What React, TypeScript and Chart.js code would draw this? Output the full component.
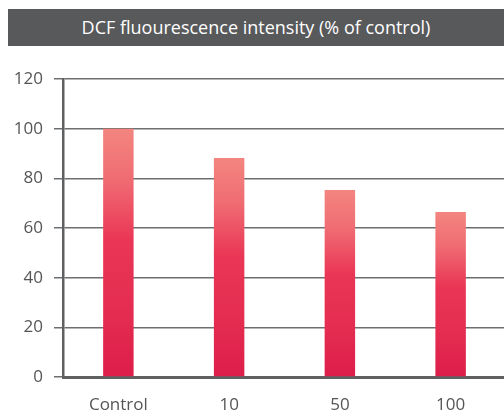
import React, { useEffect, useRef } from "react";
import { Chart, registerables } from "chart.js";

Chart.register(...registerables);

const titleText = "DCF fluourescence intensity (% of control)";
const categories = ["Control", "10", "50", "100"];
const values = [100, 88.2, 75.3, 66.4];
const yMin = 0;
const yMax = 120;
const yStep = 20;

const FONT = "'Open Sans', Lato, sans-serif";

export default function App() {
  const canvasRef = useRef<HTMLCanvasElement | null>(null);

  useEffect(() => {
    const canvas = canvasRef.current;
    if (!canvas) return;
    const chart = new Chart(canvas, {
      type: "bar",
      data: {
        labels: categories,
        datasets: [
          {
            data: values,
            categoryPercentage: 1,
            barPercentage: 0.275,
            borderWidth: 0,
            backgroundColor: (ctx: any) => {
              const c = ctx.chart;
              const y = c.scales?.y;
              if (!y || ctx.raw == null) return "#e8304f";
              const top = y.getPixelForValue(ctx.raw as number);
              const bottom = y.getPixelForValue(0);
              if (!isFinite(top) || !isFinite(bottom) || top === bottom) return "#e8304f";
              const g = c.ctx.createLinearGradient(0, top, 0, bottom);
              g.addColorStop(0, "#f3857f");
              g.addColorStop(0.2, "#f06d73");
              g.addColorStop(0.45, "#ea3656");
              g.addColorStop(0.75, "#e42c50");
              g.addColorStop(1, "#dd1d4a");
              return g;
            },
          },
        ],
      },
      options: {
        animation: false,
        responsive: false,
        maintainAspectRatio: false,
        layout: { padding: { top: 29, right: 0, bottom: 0, left: 0 } },
        plugins: {
          legend: { display: false },
          title: { display: false },
          tooltip: { enabled: false },
        },
        scales: {
          x: {
            offset: true,
            grid: { display: true, color: "rgba(0,0,0,0)", drawOnChartArea: false, tickLength: 0 },
            border: { display: true, color: "#5f6062", width: 3 },
            ticks: {
              color: "#555555",
              font: { family: FONT, size: 17 },
              padding: 18,
            },
            afterFit: (s: any) => {
              s.height = 37;
            },
          },
          y: {
            min: yMin,
            max: yMax,
            grid: {
              color: "#6d6e70",
              lineWidth: 1.5,
              tickLength: 9,
              drawTicks: true,
            },
            border: { display: true, color: "#5f6062", width: 2.5 },
            ticks: {
              stepSize: yStep,
              color: "#555555",
              font: { family: FONT, size: 17 },
              padding: 11,
            },
            afterFit: (s: any) => {
              s.width = 63;
            },
          },
        },
      },
    });
    chart.update();
    return () => chart.destroy();
  }, []);

  return (
    <div
      style={{
        position: "fixed",
        left: 0,
        top: 0,
        width: 504,
        height: 414,
        overflow: "hidden",
        background: "#ffffff",
      }}
    >
      <div
        style={{
          position: "absolute",
          left: 8,
          top: 9,
          width: 496,
          height: 37,
          background: "#58595b",
          color: "#ffffff",
          fontFamily: FONT,
          fontSize: 18,
          lineHeight: "37px",
          textAlign: "center",
          whiteSpace: "nowrap",
        }}
      >
        {titleText}
      </div>
      <div style={{ position: "absolute", left: 0, top: 50, width: 506, height: 364 }}>
        <canvas ref={canvasRef} width={506} height={364} style={{ width: 506, height: 364, display: "block" }} />
      </div>
    </div>
  );
}
